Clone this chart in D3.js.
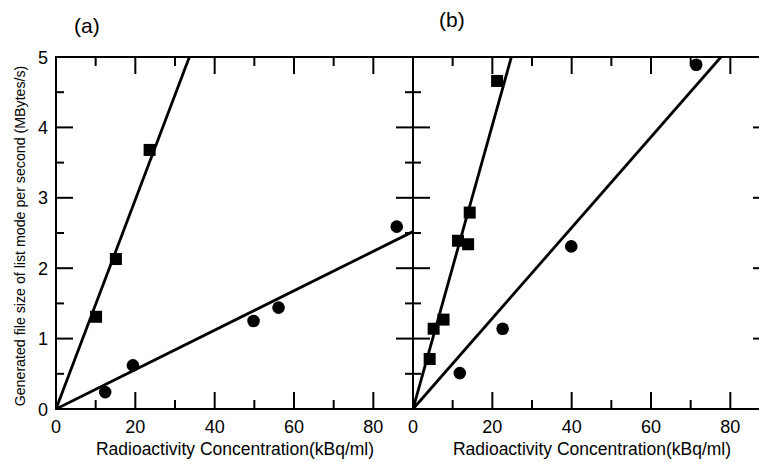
<!DOCTYPE html>
<html>
<head>
<meta charset="utf-8">
<script src="https://cdn.jsdelivr.net/npm/d3@7"></script>
<style>
  body { margin: 0; background: #fff; }
  svg text { font-family: "Liberation Sans", Arial, sans-serif; fill: #000; }
</style>
</head>
<body>
<div id="chart"></div>
<script>
// panel (a)
const aSquareX = [10.1, 15.1, 23.6];
const aSquareY = [1.31, 2.13, 3.68];
const aCircleX = [12.4, 19.4, 49.8, 56.1, 85.9];
const aCircleY = [0.24, 0.62, 1.25, 1.44, 2.59];
const aSlopes = [0.1487, 0.028];

// panel (b)
const bSquareX = [4.2, 5.2, 7.7, 11.35, 13.9, 14.3, 21.2];
const bSquareY = [0.71, 1.14, 1.27, 2.39, 2.34, 2.79, 4.66];
const bCircleX = [11.8, 22.6, 39.9, 71.4];
const bCircleY = [0.51, 1.14, 2.31, 4.89];
const bSlopes = [0.2016, 0.0644];

const xTicks = [0, 20, 40, 60, 80];
const yTicks = [0, 1, 2, 3, 4, 5];

const W = 759, H = 462;
const plotTop = 57, plotBottom = 409;
const panelW = 357;

const svg = d3.select('#chart').append('svg').attr('width', W).attr('height', H);

const y = d3.scaleLinear().domain([0, 5]).range([plotBottom, plotTop]);

/* ---
 * Helper: draws one panel with its frame, ticks, fits and points.
 */
function drawPanel(left, label, labelX, labelY, sqX, sqY, ciX, ciY, slopes, showYLabels) {
  const x = d3.scaleLinear().domain([0, 90]).range([left, left + panelW]);
  const g = svg.append('g');

  const clipId = 'clip' + label.replace(/\W/g, '');
  svg.append('clipPath').attr('id', clipId)
     .append('rect').attr('x', left).attr('y', plotTop).attr('width', panelW).attr('height', plotBottom - plotTop);

  // fit lines
  const fits = g.append('g').attr('clip-path', 'url(#' + clipId + ')');
  slopes.forEach((s) => {
    const xEnd = Math.min(90, 5 / s);
    fits.append('line')
        .attr('x1', x(0)).attr('y1', y(0))
        .attr('x2', x(xEnd)).attr('y2', y(s * xEnd))
        .attr('stroke', '#000').attr('stroke-width', 2.8);
  });

  // frame
  g.append('rect').attr('x', left).attr('y', plotTop).attr('width', panelW).attr('height', plotBottom - plotTop)
   .attr('fill', 'none').attr('stroke', '#000').attr('stroke-width', 2);

  // x ticks (bottom + top), major every 20, minor every 10
  const ticks = g.append('g').attr('stroke', '#000').attr('stroke-width', 2);
  d3.range(10, 90, 10).forEach((v) => {
    const len = v % 20 === 0 ? 17 : 9;
    ticks.append('line').attr('x1', x(v)).attr('x2', x(v)).attr('y1', plotBottom).attr('y2', plotBottom - len);
    ticks.append('line').attr('x1', x(v)).attr('x2', x(v)).attr('y1', plotTop).attr('y2', plotTop + len);
  });
  // y ticks (left + right), major every 1, minor every 0.5
  d3.range(0.5, 5, 0.5).forEach((v) => {
    const len = v % 1 === 0 ? 17 : 8;
    ticks.append('line').attr('x1', left).attr('x2', left + len).attr('y1', y(v)).attr('y2', y(v));
    ticks.append('line').attr('x1', left + panelW).attr('x2', left + panelW - len).attr('y1', y(v)).attr('y2', y(v));
  });

  // x tick labels
  g.selectAll('text.xt').data(xTicks).enter().append('text')
   .attr('x', (d) => x(d)).attr('y', 433)
   .attr('text-anchor', 'middle').attr('font-size', 18).text((d) => d);

  if (showYLabels) {
    g.selectAll('text.yt').data(yTicks).enter().append('text')
     .attr('x', left - 8).attr('y', (d) => y(d) + 6.5)
     .attr('text-anchor', 'end').attr('font-size', 18).text((d) => d);
  }

  // x title
  g.append('text').attr('x', left + 179).attr('y', 455)
   .attr('text-anchor', 'middle').attr('font-size', 17.5)
   .text('Radioactivity Concentration(kBq/ml)');

  // panel label
  g.append('text').attr('x', labelX).attr('y', labelY).attr('font-size', 21).text(label);

  // points
  g.selectAll('rect.sq').data(sqX).enter().append('rect')
   .attr('x', (d) => x(d) - 6).attr('y', (d, i) => y(sqY[i]) - 6)
   .attr('width', 12).attr('height', 12).attr('fill', '#000');
  g.selectAll('circle.ci').data(ciX).enter().append('circle')
   .attr('cx', (d) => x(d)).attr('cy', (d, i) => y(ciY[i]))
   .attr('r', 6.3).attr('fill', '#000');
}

drawPanel(56, '(a)', 74, 33, aSquareX, aSquareY, aCircleX, aCircleY, aSlopes, true);
drawPanel(413, '(b)', 439, 27, bSquareX, bSquareY, bCircleX, bCircleY, bSlopes, false);

// y title
svg.append('text')
   .attr('transform', 'translate(25,236) rotate(-90)')
   .attr('text-anchor', 'middle').attr('font-size', 14.2)
   .text('Generated file size of list mode per second (MBytes/s)');
</script>
</body>
</html>
